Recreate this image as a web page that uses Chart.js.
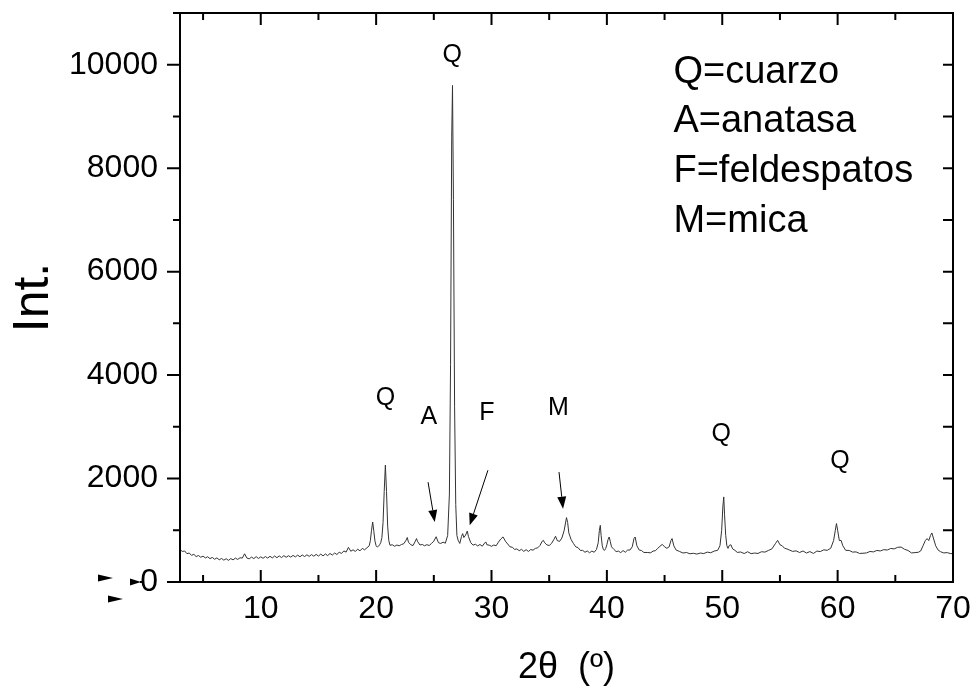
<!DOCTYPE html>
<html>
<head>
<meta charset="utf-8">
<script src="https://cdn.jsdelivr.net/npm/chart.js@4.4.1/dist/chart.umd.min.js"></script>
<style>
  html, body { margin: 0; padding: 0; background: #fff; }
  canvas { display: block; }
</style>
</head>
<body>
<canvas id="c" width="976" height="695"></canvas>
<script>
// ---------- DATA ----------
const twoTheta = [
  3.0,3.2,3.4,3.6,3.8,4.0,4.2,4.4,4.6,4.8,
  5.0,5.2,5.4,5.6,5.8,6.0,6.2,6.4,6.6,6.8,
  7.0,7.2,7.4,7.6,7.8,8.0,8.2,8.4,8.6,8.8,
  9.0,9.2,9.4,9.6,9.8,10.0,10.2,10.4,10.6,10.8,
  11.0,11.2,11.4,11.6,11.8,12.0,12.2,12.4,12.6,12.8,
  13.0,13.2,13.4,13.6,13.8,14.0,14.2,14.4,14.6,14.8,
  15.0,15.2,15.4,15.6,15.8,16.0,16.2,16.4,16.6,16.8,
  17.0,17.2,17.4,17.6,17.8,18.0,18.2,18.4,18.6,18.8,
  19.0,
  19.2,19.4,19.5,19.6,19.7,19.8,19.9,20.0,20.1,20.2,
  20.3,20.4,20.5,20.6,20.7,20.8,20.9,21.0,21.1,21.2,
  21.4,21.6,21.8,22.0,22.2,22.4,22.6,22.7,22.8,23.0,
  23.2,23.4,23.5,23.6,23.8,24.0,24.2,24.4,24.6,24.8,
  25.0,25.2,25.4,25.6,25.8,26.0,26.2,26.35,26.45,26.55,
  26.62,26.7,26.8,26.9,27.0,27.1,27.25,27.4,27.5,27.6,
  27.75,27.9,28.0,28.2,28.4,28.6,28.8,29.0,29.2,29.4,
  29.5,29.6,29.8,30.0,30.2,30.4,30.6,30.8,31.0,31.2,
  31.4,31.6,31.8,32.0,32.2,32.4,32.6,32.8,33.0,33.2,
  33.4,33.6,33.8,34.0,34.2,34.4,34.5,34.6,34.8,35.0,
  35.2,35.4,35.55,35.7,35.9,36.1,36.3,36.5,36.6,36.7,
  36.9,37.1,37.3,37.5,37.7,37.9,38.1,38.3,38.5,38.7,
  38.9,39.1,39.25,39.35,39.43,39.5,39.6,39.7,39.8,39.9,
  40.0,40.1,40.2,40.3,40.4,40.6,40.8,41.0,41.2,41.4,
  41.6,41.8,42.0,42.2,42.35,42.45,42.6,42.8,43.0,43.2,
  43.5,43.8,44.0,44.2,44.4,44.6,44.8,45.0,45.2,45.4,
  45.55,45.65,45.8,46.0,46.3,46.6,46.9,47.2,47.5,47.8,
  48.1,48.4,48.7,49.0,49.3,49.6,49.8,49.95,50.05,50.13,
  50.2,50.3,50.4,50.5,50.6,50.75,50.9,51.1,51.3,51.6,
  51.9,52.2,52.5,52.8,53.1,53.4,53.7,54.0,54.3,54.6,
  54.8,55.0,55.2,55.4,55.6,55.8,56.1,56.4,56.7,57.0,
  57.3,57.6,57.9,58.2,58.5,58.8,59.1,59.4,59.65,59.8,
  59.9,60.0,60.15,60.3,60.45,60.7,61.0,61.3,61.6,61.9,
  62.2,62.5,62.8,63.1,63.4,63.7,64.0,64.3,64.6,64.9,
  65.2,65.5,65.8,66.1,66.4,66.7,67.0,67.2,67.4,67.6,
  67.75,67.9,68.05,68.17,68.3,68.5,68.7,68.9,69.2,69.5,
  69.8,70.0
];
const intensity = [
  630,590,600,548,560,515,535,492,512,478,
  500,465,488,452,475,440,466,430,455,422,
  450,418,452,428,462,436,468,462,545,462,
  448,482,452,490,455,486,458,492,462,498,
  465,502,470,505,472,510,478,508,480,515,
  484,520,488,522,492,526,495,530,498,534,
  502,538,505,542,510,552,520,560,532,575,
  552,600,578,670,595,622,590,635,602,650,
  622,
  660,700,800,1000,1160,980,790,700,676,690,
  720,760,860,1150,1750,2260,1750,1080,800,710,
  720,690,715,700,725,740,810,860,770,720,
  705,790,840,780,715,725,700,722,705,745,
  790,875,760,745,770,750,900,1700,4200,8600,
  9600,7400,3400,1500,900,810,745,880,935,860,
  905,985,880,760,712,730,698,725,692,752,
  775,720,712,690,715,700,770,830,872,790,
  735,680,672,630,640,605,632,592,625,590,
  628,615,650,660,705,790,805,760,718,705,
  745,820,885,800,785,850,1000,1245,1150,950,
  820,745,680,665,610,612,575,600,565,598,
  575,630,760,1000,1095,900,700,625,612,650,
  720,820,870,780,680,632,588,598,568,608,
  575,618,618,680,840,870,700,618,608,572,
  570,565,598,605,648,690,728,680,652,680,
  800,840,700,618,590,560,570,545,555,540,
  560,550,578,565,598,612,700,1000,1450,1645,
  1300,900,700,650,705,720,640,612,572,580,
  550,585,548,560,552,585,578,610,640,740,
  805,720,700,652,640,620,592,602,570,600,
  560,588,552,598,588,622,612,652,800,1000,
  1130,1000,800,805,700,612,610,578,582,552,
  556,562,590,582,610,600,625,618,648,640,
  670,676,632,610,562,568,575,600,700,800,
  840,800,900,948,850,700,620,588,562,568,
  548,552
];

// axis ticks
const xTicks = [10, 20, 30, 40, 50, 60, 70];
const xMinorTicks = [5, 15, 25, 35, 45, 55, 65];
const yTicks = [0, 2000, 4000, 6000, 8000, 10000];
const yMinorTicks = [1000, 3000, 5000, 7000, 9000, 11000];

// axis titles
const xTitle = '2\u03B8  (\u00BA)';
const yTitle = 'Int.';

// peak labels (position in data units)
const peakLabels = ['Q', 'Q', 'A', 'F', 'M', 'Q', 'Q'];
const peakLabelX = [26.6, 20.8, 24.56, 29.6, 35.8, 49.9, 60.2];
const peakLabelY = [10190, 3550, 3190, 3265, 3355, 2855, 2330];

// arrows (data units)
const arrowFromX = [24.5, 29.69, 35.85];
const arrowFromY = [1930, 2160, 2125];
const arrowToX = [25.08, 28.11, 36.2];
const arrowToY = [1160, 1095, 1418];

// key text
const keyLines = ['Q=cuarzo', 'A=anatasa', 'F=feldespatos', 'M=mica'];
const keyX = 45.77;
const keyFirstY = 9652;

// ---------- CHART ----------
const FONT = "'Liberation Sans', Arial, Helvetica, sans-serif";
const points = twoTheta.map((x, i) => ({ x: x, y: intensity[i] }));

const decorPlugin = {
  id: 'decor',
  afterDraw(chart) {
    const { ctx, chartArea: a, scales: { x, y } } = chart;
    ctx.save();
    ctx.strokeStyle = '#000';
    ctx.fillStyle = '#000';
    ctx.lineWidth = 2;
    ctx.lineCap = 'butt';
    // frame
    ctx.strokeRect(a.left, a.top, a.right - a.left, a.bottom - a.top);
    // ticks
    ctx.beginPath();
    xTicks.forEach(v => {
      const p = x.getPixelForValue(v);
      ctx.moveTo(p, a.bottom); ctx.lineTo(p, a.bottom - 12);
      ctx.moveTo(p, a.top); ctx.lineTo(p, a.top + 12);
    });
    xMinorTicks.forEach(v => {
      const p = x.getPixelForValue(v);
      ctx.moveTo(p, a.bottom); ctx.lineTo(p, a.bottom - 7);
      ctx.moveTo(p, a.top); ctx.lineTo(p, a.top + 7);
    });
    yTicks.forEach(v => {
      const p = y.getPixelForValue(v);
      ctx.moveTo(a.left, p); ctx.lineTo(a.left - 13, p);
      ctx.moveTo(a.right, p); ctx.lineTo(a.right - 10, p);
    });
    yMinorTicks.forEach(v => {
      const p = y.getPixelForValue(v);
      ctx.moveTo(a.left, p); ctx.lineTo(a.left - 7, p);
      ctx.moveTo(a.right, p); ctx.lineTo(a.right - 10, p);
    });
    ctx.stroke();

    // small triangle markers near the origin
    const y0 = y.getPixelForValue(0);
    const tri = (x1, x2, yc) => {
      ctx.beginPath();
      ctx.moveTo(x1, yc - 3.5); ctx.lineTo(x2, yc); ctx.lineTo(x1, yc + 3.5);
      ctx.closePath(); ctx.fill();
    };
    tri(a.left - 82, a.left - 67, y0 - 4);
    tri(a.left - 72, a.left - 57, y0 + 17);
    tri(a.left - 50, a.left - 39, y0);
    ctx.beginPath(); ctx.moveTo(a.left - 40, y0); ctx.lineTo(a.left - 36, y0); ctx.stroke();

    // peak labels
    ctx.font = '25px ' + FONT;
    ctx.textAlign = 'center';
    ctx.textBaseline = 'middle';
    peakLabels.forEach((t, i) => {
      ctx.fillText(t, x.getPixelForValue(peakLabelX[i]), y.getPixelForValue(peakLabelY[i]));
    });

    // arrows
    ctx.lineWidth = 1;
    arrowFromX.forEach((fx, i) => {
      const x1 = x.getPixelForValue(fx), y1 = y.getPixelForValue(arrowFromY[i]);
      const x2 = x.getPixelForValue(arrowToX[i]), y2 = y.getPixelForValue(arrowToY[i]);
      const ang = Math.atan2(y2 - y1, x2 - x1);
      const L = 12, W = 4.5;
      const bx = x2 - L * Math.cos(ang), by = y2 - L * Math.sin(ang);
      ctx.beginPath(); ctx.moveTo(x1, y1); ctx.lineTo(bx, by); ctx.stroke();
      ctx.beginPath();
      ctx.moveTo(x2, y2);
      ctx.lineTo(bx + W * Math.sin(ang), by - W * Math.cos(ang));
      ctx.lineTo(bx - W * Math.sin(ang), by + W * Math.cos(ang));
      ctx.closePath(); ctx.fill();
    });

    // key text
    ctx.font = '38px ' + FONT;
    ctx.textAlign = 'left';
    ctx.textBaseline = 'alphabetic';
    const kx = x.getPixelForValue(keyX);
    const ky = y.getPixelForValue(keyFirstY);
    keyLines.forEach((t, i) => ctx.fillText(t, kx, ky + i * 49.7));
    ctx.restore();
  }
};

new Chart(document.getElementById('c'), {
  type: 'line',
  data: {
    datasets: [{
      data: points,
      borderColor: '#333',
      borderWidth: 1,
      pointRadius: 0,
      tension: 0,
      fill: false
    }]
  },
  options: {
    responsive: false,
    animation: false,
    events: [],
    layout: { padding: { left: 0, right: 23, top: 13, bottom: 0 } },
    plugins: { legend: { display: false }, tooltip: { enabled: false } },
    scales: {
      x: {
        type: 'linear',
        min: 3, max: 70,
        afterBuildTicks: s => { s.ticks = xTicks.map(v => ({ value: v })); },
        afterFit: s => { s.height = 113; s.paddingLeft = 0; s.paddingRight = 0; },
        grid: { display: false, drawTicks: false },
        border: { display: false },
        ticks: { font: { family: FONT, size: 32 }, color: '#000', padding: 8, maxRotation: 0, autoSkip: false, callback: v => String(v) },
        title: { display: true, text: xTitle, color: '#000', font: { family: FONT, size: 36, lineHeight: 1 }, padding: { top: 0, bottom: 9 } }
      },
      y: {
        type: 'linear',
        min: 0, max: 11000,
        afterBuildTicks: s => { s.ticks = yTicks.map(v => ({ value: v })); },
        afterFit: s => { s.width = 180; s.paddingTop = 0; s.paddingBottom = 0; },
        grid: { display: false, drawTicks: false },
        border: { display: false },
        ticks: { font: { family: FONT, size: 32 }, color: '#000', padding: 22, callback: v => String(v) },
        title: { display: true, text: yTitle, color: '#000', font: { family: FONT, size: 50, lineHeight: 1 }, padding: { top: 9, bottom: 0 } }
      }
    }
  },
  plugins: [decorPlugin]
});
</script>
</body>
</html>
